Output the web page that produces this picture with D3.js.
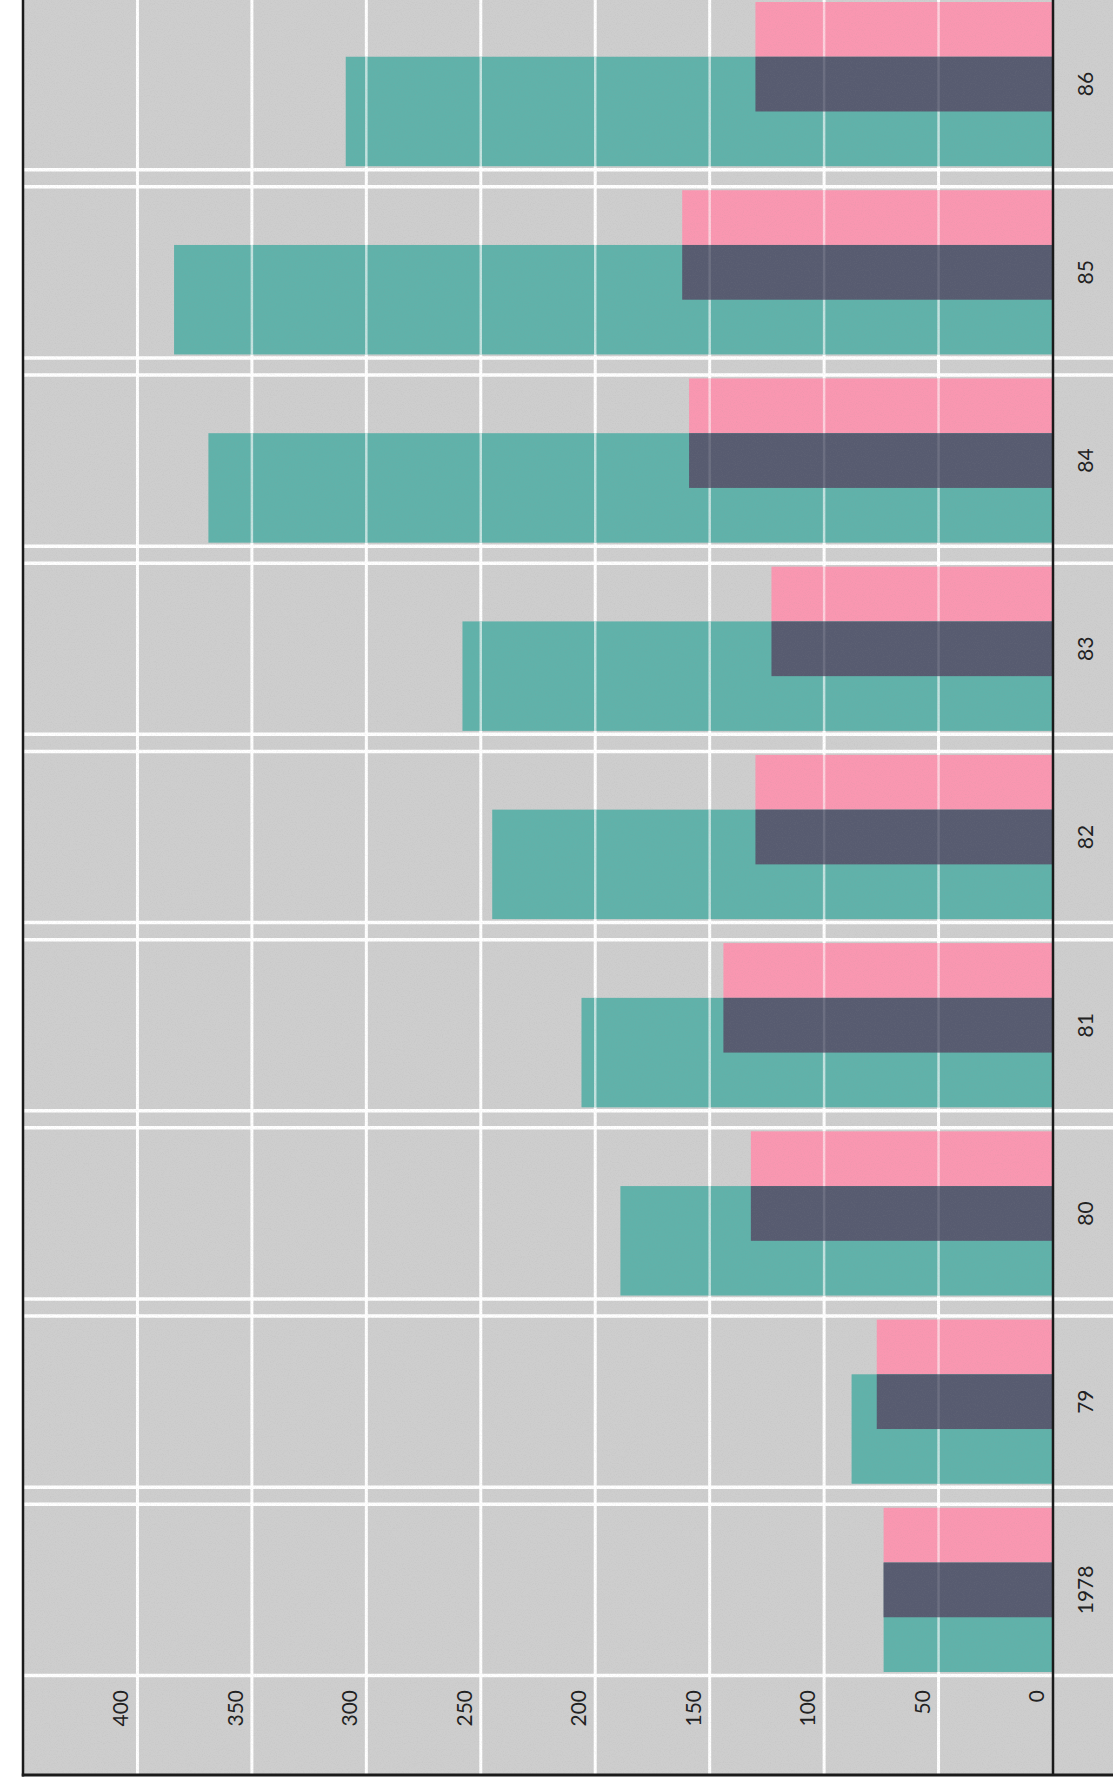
<!DOCTYPE html>
<html>
<head>
<meta charset="utf-8">
<script src="https://cdn.jsdelivr.net/npm/d3@7"></script>
<style>
  html, body { margin: 0; padding: 0; background: #fff; }
  svg { display: block; }
</style>
</head>
<body>
<div id="chart"></div>
<script>
// data
const years = ['1978', '79', '80', '81', '82', '83', '84', '85', '86'];
const pinkValues = [74, 77, 132, 144, 130, 123, 159, 162, 130];
const tealValues = [74, 88, 189, 206, 245, 258, 369, 384, 309];
const tickValues = [0, 50, 100, 150, 200, 250, 300, 350, 400];

let width = 1113, height = 1789;
let frameLeft = 23, frameBottom = 1775, zeroX = 1053;
let paper = '#cecece', pink = '#fa97b1', teal = '#60b2aa', slate = '#575b70';

let svg = d3.select('#chart').append('svg')
  .attr('width', width)
  .attr('height', height);

// value axis runs right to left, 450 sits on the left frame
let x = d3.scaleLinear().domain([0, 450]).range([zeroX, frameLeft]);
// years from bottom (1978) to top (86)
let y = d3.scaleBand()
  .domain(years.slice().reverse())
  .range([-10, 1684])
  .paddingInner(24 / 188)
  .paddingOuter(12 / 188);
// three rows in each band: pink / overlap / teal
let row = d3.scaleBand().domain(['a', 'ab', 'b']).range([0, y.bandwidth()]);

// grain for the paper look
let defs = svg.append('defs');
let grain = defs.append('filter').attr('id', 'grain')
  .attr('x', 0).attr('y', 0).attr('width', 1).attr('height', 1);
grain.append('feTurbulence')
  .attr('type', 'fractalNoise')
  .attr('baseFrequency', 0.85)
  .attr('numOctaves', 2)
  .attr('seed', 7);
grain.append('feColorMatrix')
  .attr('type', 'matrix')
  .attr('values', '0 0 0 0 0.3  0 0 0 0 0.3  0 0 0 0 0.3  0.7 0 0 0 -0.3');

// paper
svg.append('rect')
  .attr('x', frameLeft).attr('y', 0)
  .attr('width', width - frameLeft).attr('height', frameBottom)
  .attr('fill', paper);

let gridVals = tickValues.filter(d => d > 0);

// vertical grid, full height
svg.append('g').selectAll('line')
  .data(gridVals)
  .join('line')
  .attr('x1', d => x(d)).attr('x2', d => x(d))
  .attr('y1', 0).attr('y2', frameBottom)
  .attr('stroke', '#fff')
  .attr('stroke-width', 3);

// double white lines between the years
let hLines = [];
years.forEach(yr => {
  let top = y(yr), bot = top + y.bandwidth();
  if (top > 8) hLines.push(top - 3.5);
  hLines.push(bot + 3.5);
});
svg.append('g').selectAll('line')
  .data(hLines)
  .join('line')
  .attr('x1', frameLeft).attr('x2', width)
  .attr('y1', d => d).attr('y2', d => d)
  .attr('stroke', '#fff')
  .attr('stroke-width', 3.5);

let bars = years.map((yr, i) => ({year: yr, a: pinkValues[i], b: tealValues[i]}));

// gridlines still show through the ink
function showThrough(g, v, y0, h, op) {
  g.selectAll(null)
    .data(gridVals.filter(t => t < v))
    .join('line')
    .attr('x1', t => x(t)).attr('x2', t => x(t))
    .attr('y1', y0).attr('y2', y0 + h)
    .attr('stroke', '#fff')
    .attr('stroke-opacity', op)
    .attr('stroke-width', 2.5);
}

let barG = svg.append('g');
bars.forEach(d => {
  let top = y(d.year);
  let g = barG.append('g');

  // pink: top two rows
  g.append('rect')
    .attr('x', x(d.a)).attr('y', Math.max(0, top + row('a')))
    .attr('width', x(0) - x(d.a)).attr('height', top + row('ab') + row.bandwidth() - Math.max(0, top + row('a')))
    .attr('fill', pink);
  showThrough(g.append('g'), d.a, top + row('a'), row.bandwidth(), 0.55);

  // teal: bottom two rows
  g.append('rect')
    .attr('x', x(d.b)).attr('y', top + row('ab'))
    .attr('width', x(0) - x(d.b)).attr('height', row.bandwidth() * 2)
    .attr('fill', teal);
  showThrough(g.append('g'), d.b, top + row('ab'), row.bandwidth() * 2, 0.62);

  // overlap
  let m = Math.min(d.a, d.b);
  g.append('rect')
    .attr('x', x(m)).attr('y', top + row('ab'))
    .attr('width', x(0) - x(m)).attr('height', row.bandwidth())
    .attr('fill', slate);
  showThrough(g.append('g'), m, top + row('ab'), row.bandwidth(), 0.12);
});

// grain over paper and ink
svg.append('rect')
  .attr('x', frameLeft).attr('y', 0)
  .attr('width', width - frameLeft).attr('height', frameBottom)
  .attr('filter', 'url(#grain)')
  .attr('opacity', 0.35);

// frame and zero line
svg.append('line')
  .attr('x1', x(0)).attr('x2', x(0))
  .attr('y1', 0).attr('y2', frameBottom)
  .attr('stroke', '#1a1a1a').attr('stroke-width', 2.5);
svg.append('line')
  .attr('x1', frameLeft).attr('x2', frameLeft)
  .attr('y1', 0).attr('y2', frameBottom + 1.5)
  .attr('stroke', '#1a1a1a').attr('stroke-width', 2.5);
svg.append('line')
  .attr('x1', frameLeft - 1.25).attr('x2', width)
  .attr('y1', frameBottom).attr('y2', frameBottom)
  .attr('stroke', '#1a1a1a').attr('stroke-width', 3);

// value labels, turned on their side
svg.append('g').selectAll('text')
  .data(tickValues)
  .join('text')
  .attr('transform', d => `translate(${x(d) - 9},1690) rotate(-90)`)
  .attr('text-anchor', 'end')
  .attr('font-family', 'Lato, sans-serif')
  .attr('font-size', 21)
  .attr('fill', '#222')
  .text(d => d);

// year labels
svg.append('g').selectAll('text')
  .data(years)
  .join('text')
  .attr('transform', d => `translate(1093,${y(d) + y.bandwidth() / 2}) rotate(-90)`)
  .attr('text-anchor', 'middle')
  .attr('font-family', 'Lato, sans-serif')
  .attr('font-size', 21)
  .attr('fill', '#222')
  .text(d => d);
</script>
</body>
</html>
